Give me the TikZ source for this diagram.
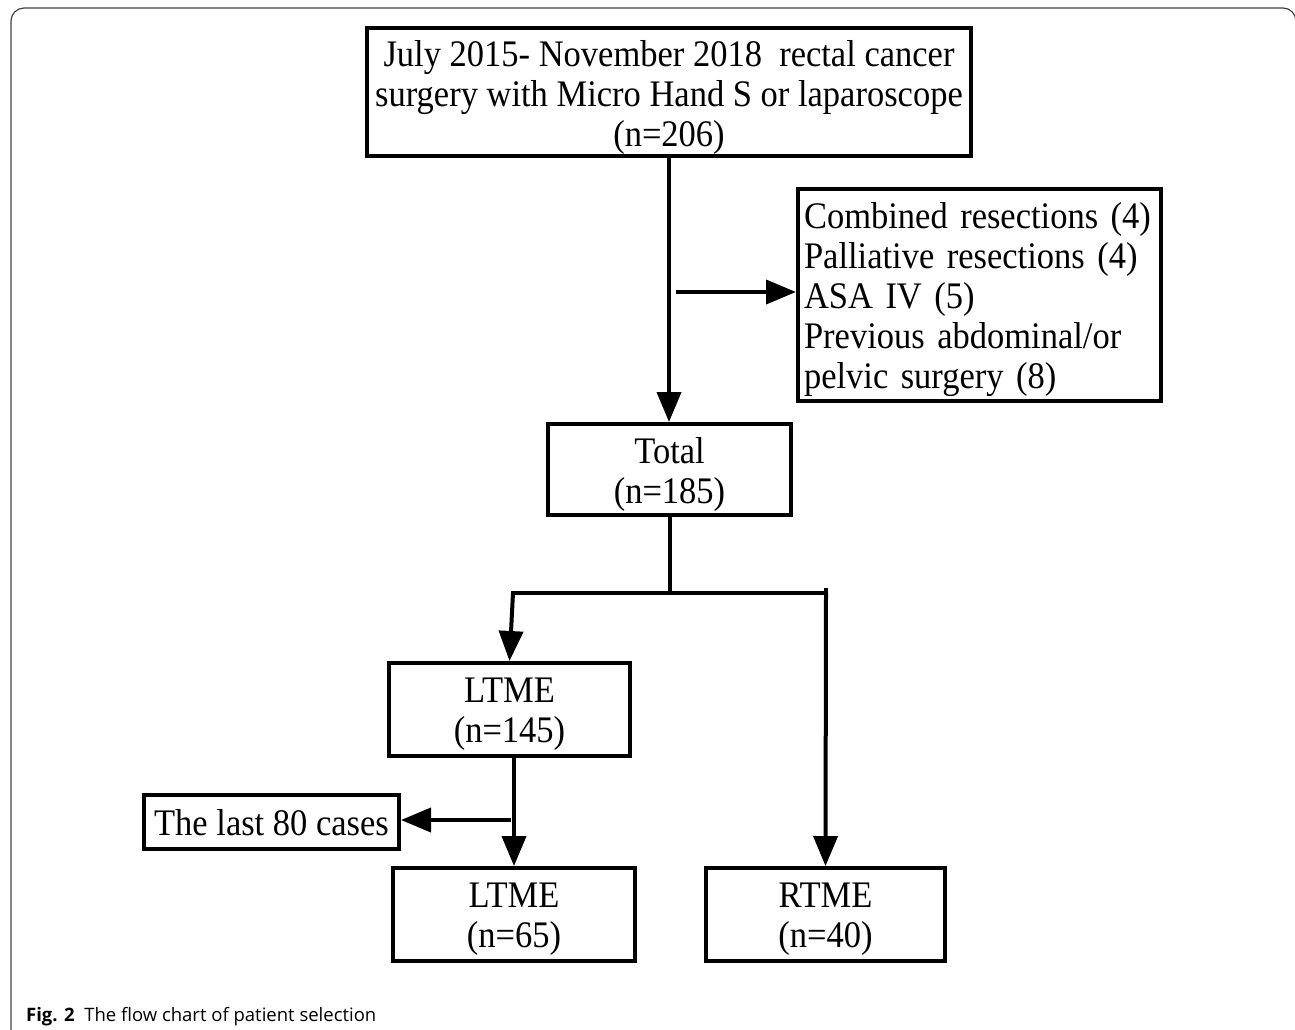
\documentclass[tikz,border=0pt]{standalone}
\usepackage{fontspec}
\setmainfont[FakeStretch=0.92]{Liberation Serif}
\newfontfamily\capfont{Open Sans}
\usetikzlibrary{arrows.meta}
\begin{document}
\begin{tikzpicture}[x=1pt,y=-1pt,
  box/.style={draw=black,line width=4pt,inner sep=0pt},
  txt/.style={inner sep=0pt,align=center,font=\fontsize{37.5}{40}\selectfont},
  conn/.style={draw=black,line width=4pt},
  arr/.style={conn,-{Triangle[width=24pt,length=30pt]}},
  frame/.style={draw=black!75,line width=1.2pt,rounded corners=13pt}]
\useasboundingbox (0,0) rectangle (1295,1029);
\draw[frame] (11,1045) -- (11,8) -- (1296,8) -- (1296,1045);

\node[box,minimum width=604pt,minimum height=128pt] (top) at (669,92) {};
\node[txt] (topt) at ([yshift=-5pt]top.center)
  {July 2015- November 2018\ \ rectal cancer\\surgery with Micro Hand S or laparoscope\\(n=206)};
\node[box,minimum width=363pt,minimum height=212pt] (side) at (979.5,295) {};
\node[txt,align=left,text width=351pt] (sidet) at ([yshift=-5pt]side.center)
  {Combined resections (4)\\Palliative resections (4)\\ASA IV (5)\\Previous abdominal/or\\pelvic surgery (8)};
\node[box,minimum width=243pt,minimum height=91pt] (total) at (669.5,469.5) {};
\node[txt] (totalt) at ([yshift=-5pt]total.center) {Total\\(n=185)};
\node[box,minimum width=241pt,minimum height=93pt] (ltmea) at (509.5,709.5) {};
\node[txt] (ltmeat) at ([yshift=-5pt]ltmea.center) {LTME\\(n=145)};
\node[box,minimum width=255pt,minimum height=54pt] (last) at (271.5,822) {};
\node[txt] (lastt) at ([yshift=-1pt]last.center) {The last 80 cases};
\node[box,minimum width=242pt,minimum height=93pt] (ltmeb) at (514,914.5) {};
\node[txt] (ltmebt) at ([yshift=-5pt]ltmeb.center) {LTME\\(n=65)};
\node[box,minimum width=239pt,minimum height=93pt] (rtme) at (825.5,914.5) {};
\node[txt] (rtmet) at ([yshift=-5pt]rtme.center) {RTME\\(n=40)};

\draw[arr] (top.south) -- (top.south |- total.north);
\coordinate (s1) at (676,292);
\draw[arr] (s1) -- (s1 -| side.west);
\coordinate (j) at (total.south |- 0,593);
\coordinate (jl) at (513,593);
\coordinate (jr) at (826,593);
\draw[conn] (total.south) -- (j);
\draw[conn] (511,593) -- (828,593);
\draw[conn] (jr) ++(0,-5) -- (jr);
\draw[arr] (jl) -- (ltmea.north);
\draw[arr] (jr) -- (rtme.north);
\draw[arr] (ltmeb.north |- ltmea.south) -- (ltmeb.north);
\coordinate (s2) at (511,820);
\draw[arr] (s2) -- (s2 -| last.east);

\node[anchor=base west,inner sep=0pt,font=\capfont\fontsize{18.5}{22}\selectfont] (cap) at (26,1021)
  {\textbf{Fig. 2}\ \ The flow chart of patient selection};
\end{tikzpicture}
\end{document}
